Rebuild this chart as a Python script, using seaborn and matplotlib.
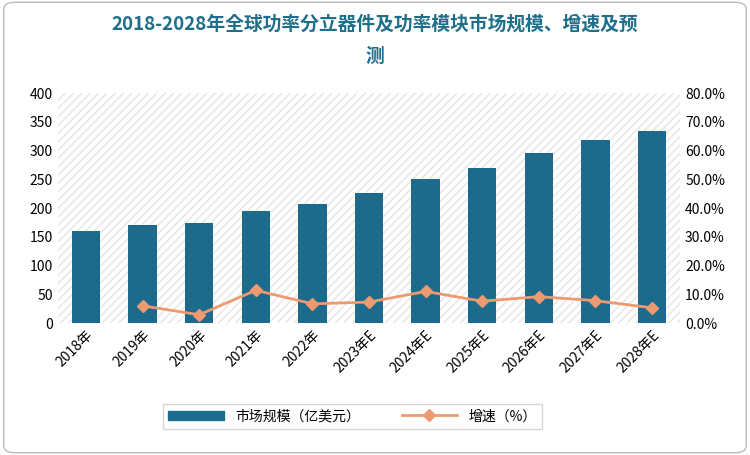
import matplotlib
matplotlib.use("Agg")
import matplotlib.pyplot as plt
from matplotlib import font_manager
import seaborn as sns
import pandas as pd
from matplotlib.patches import FancyBboxPatch

cjk = [f.name for f in font_manager.fontManager.ttflist if "CJK" in f.name]
plt.rcParams["font.family"] = "sans-serif"
plt.rcParams["font.sans-serif"] = sorted(set(cjk)) + ["DejaVu Sans"]

years = ["2018年", "2019年", "2020年", "2021年", "2022年", "2023年E", "2024年E",
         "2025年E", "2026年E", "2027年E", "2028年E"]
market = [160, 170, 175, 195, 208, 226, 251, 270, 296, 319, 335]
growth = [None, 6.0, 2.9, 11.4, 6.7, 7.3, 11.0, 7.6, 9.2, 7.8, 5.3]

df = pd.DataFrame({"year": years, "market": market, "growth": growth})

fig = plt.figure(figsize=(7.5, 4.55), dpi=100)
fig.patches.append(FancyBboxPatch((0.005, 0.005), 0.99, 0.99, boxstyle="round,pad=0,rounding_size=0.015",
                                  transform=fig.transFigure, fill=False, ec="#bbbbbb", lw=1))
ax = fig.add_axes([0.077, 0.29, 0.83, 0.505])
ax.add_patch(plt.Rectangle((0, 0), 1, 1, transform=ax.transAxes, fill=False,
                           hatch="////", ec="#e6e6e6", lw=0, zorder=0))

sns.barplot(data=df, x="year", y="market", color="#1c6b8c", saturation=1, width=0.5, ax=ax, zorder=2)
ax.set_ylim(0, 400)
ax.set_yticks(range(0, 401, 50))
ax.set_xlim(-0.5, len(years) - 0.5)
ax.set_xlabel("")
ax.set_ylabel("")
ax.tick_params(axis="x", rotation=45, length=0, labelsize=10)
ax.tick_params(axis="y", length=0, labelsize=10)
for lbl in ax.get_xticklabels():
    lbl.set_ha("right")
    lbl.set_rotation_mode("anchor")
for s in ax.spines.values():
    s.set_visible(False)

ax2 = ax.twinx()
sub = df.dropna()
ax2.plot(sub["year"], sub["growth"], color="#ee9a70", lw=2, marker="D", ms=6, zorder=3)
ax2.set_ylim(0, 80)
ax2.set_yticks(range(0, 81, 10))
ax2.set_yticklabels([f"{v:.1f}%" for v in range(0, 81, 10)])
ax2.tick_params(axis="y", length=0, labelsize=10)
for s in ax2.spines.values():
    s.set_visible(False)

fig.text(0.5, 0.935, "2018-2028年全球功率分立器件及功率模块市场规模、增速及预", ha="center",
         fontsize=13.5, fontweight="bold", color="#1f6f8b")
fig.text(0.5, 0.865, "测", ha="center", fontsize=13.5, fontweight="bold", color="#1f6f8b")

h1 = plt.Rectangle((0, 0), 1, 1, color="#1c6b8c")
h2 = plt.Line2D([], [], color="#ee9a70", lw=2, marker="D", ms=6)
fig.legend([h1, h2], ["市场规模（亿美元）", "增速（%）"], loc="center", bbox_to_anchor=(0.47, 0.085),
           ncol=2, fontsize=10, frameon=True, edgecolor="#cccccc", fancybox=False,
           handlelength=4, columnspacing=3)

fig.savefig("out.png", dpi=100)
